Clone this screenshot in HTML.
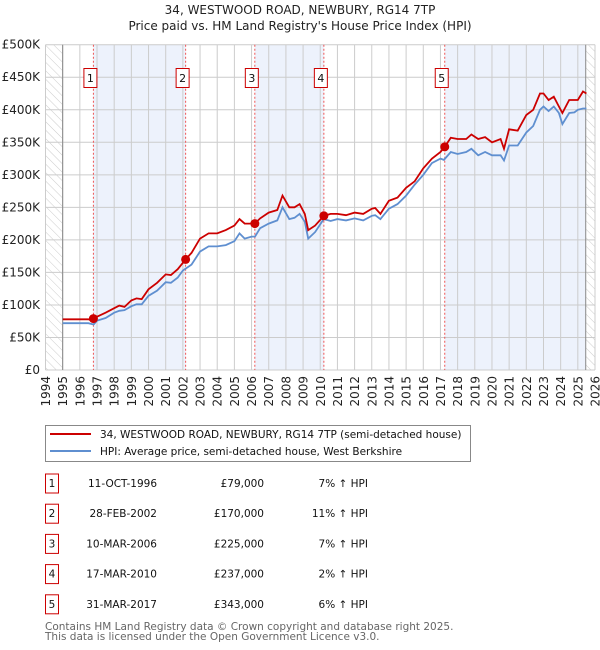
<!DOCTYPE html>
<html><head><meta charset="utf-8"><style>
body{margin:0;background:#fff;font-family:"Liberation Sans","DejaVu Sans",sans-serif;}
svg{display:block}
</style></head><body>
<svg id="c" width="600" height="650" xmlns="http://www.w3.org/2000/svg" font-family="DejaVu Sans, Liberation Sans, sans-serif">
<defs><pattern id="hatch" width="6" height="6" patternUnits="userSpaceOnUse" patternTransform="rotate(-45)"><line x1="0" y1="0" x2="0" y2="6" stroke="#ccc" stroke-width="1"/></pattern></defs>
<text x="300" y="14" text-anchor="middle" font-size="12" fill="#222">34, WESTWOOD ROAD, NEWBURY, RG14 7TP</text>
<text x="300" y="30" text-anchor="middle" font-size="12" fill="#222">Price paid vs. HM Land Registry's House Price Index (HPI)</text>
<g id="plot"></g>
<g>
<rect x="45.5" y="425.5" width="425" height="36" fill="#fff" stroke="#888"/>
<line x1="50" y1="434" x2="91" y2="434" stroke="#cc0000" stroke-width="2"/>
<text x="100" y="438" font-size="10.5" fill="#111">34, WESTWOOD ROAD, NEWBURY, RG14 7TP (semi-detached house)</text>
<line x1="50" y1="451" x2="91" y2="451" stroke="#5f8fd0" stroke-width="2"/>
<text x="100" y="455" font-size="10.5" fill="#111">HPI: Average price, semi-detached house, West Berkshire</text>
</g>
<g id="table" font-size="10.5" fill="#111"></g>
<text x="45" y="630" font-size="10.5" fill="#666">Contains HM Land Registry data © Crown copyright and database right 2025.</text>
<text x="45" y="640" font-size="10.5" fill="#666">This data is licensed under the Open Government Licence v3.0.</text>
</svg>
<script>
const hpiYears=[1995,1995.5,1996,1996.5,1996.8,1997,1997.5,1998,1998.3,1998.6,1999,1999.3,1999.6,2000,2000.5,2001,2001.3,2001.7,2002,2002.5,2003,2003.5,2004,2004.5,2005,2005.3,2005.6,2006,2006.2,2006.5,2007,2007.5,2007.8,2008.2,2008.5,2008.8,2009.1,2009.3,2009.7,2010,2010.2,2010.6,2011,2011.5,2012,2012.5,2013,2013.2,2013.5,2014,2014.5,2015,2015.5,2016,2016.5,2017,2017.2,2017.6,2018,2018.5,2018.8,2019.2,2019.6,2020,2020.5,2020.7,2021,2021.5,2022,2022.4,2022.8,2023,2023.3,2023.6,2023.9,2024.1,2024.5,2024.8,2025,2025.3,2025.5];
const hpiVals=[72,72,72,72,70,76,80,88,91,92,98,101,101,114,122,135,134,142,153,162,182,190,190,192,198,210,202,205,205,218,225,230,250,232,234,240,228,202,212,224,232,229,232,230,233,230,237,238,232,248,255,268,285,300,318,325,323,335,332,335,340,330,335,330,330,322,345,345,365,375,400,405,398,405,395,378,395,396,400,402,402];
const redYears=[1995,1995.5,1996,1996.5,1996.8,1997,1997.5,1998,1998.3,1998.6,1999,1999.3,1999.6,2000,2000.5,2001,2001.3,2001.7,2002.16,2002.5,2003,2003.5,2004,2004.5,2005,2005.3,2005.6,2006.19,2006.5,2007,2007.5,2007.8,2008.2,2008.5,2008.8,2009.1,2009.3,2009.7,2010.21,2010.6,2011,2011.5,2012,2012.5,2013,2013.2,2013.5,2014,2014.5,2015,2015.5,2016,2016.5,2017,2017.25,2017.6,2018,2018.5,2018.8,2019.2,2019.6,2020,2020.5,2020.7,2021,2021.5,2022,2022.4,2022.8,2023,2023.3,2023.6,2023.9,2024.1,2024.5,2024.8,2025,2025.3,2025.5];
const redVals=[78,78,78,78,75,82,88,95,99,97,107,110,109,124,134,147,146,155,170,180,202,210,210,215,222,232,225,225,233,242,246,268,250,250,255,240,215,222,237,240,240,238,242,240,248,249,240,260,265,280,290,310,325,335,343,357,355,355,362,355,358,350,355,340,370,368,392,400,425,425,415,420,405,395,415,415,415,428,425];
const saleYears=[1996.79,2002.16,2006.19,2010.21,2017.25];
const salePrices=[79,170,225,237,343];
const saleLabels=["1","2","3","4","5"];
const saleDates=["11-OCT-1996","28-FEB-2002","10-MAR-2006","17-MAR-2010","31-MAR-2017"];
const salePriceText=["£79,000","£170,000","£225,000","£237,000","£343,000"];
const salePct=["7% ↑ HPI","11% ↑ HPI","7% ↑ HPI","2% ↑ HPI","6% ↑ HPI"];
const yTicks=[0,50,100,150,200,250,300,350,400,450,500];
const yTickLabels=["£0","£50K","£100K","£150K","£200K","£250K","£300K","£350K","£400K","£450K","£500K"];
const xTicks=[1994,1995,1996,1997,1998,1999,2000,2001,2002,2003,2004,2005,2006,2007,2008,2009,2010,2011,2012,2013,2014,2015,2016,2017,2018,2019,2020,2021,2022,2023,2024,2025,2026];

const NS="http://www.w3.org/2000/svg";
const L=45.5,R=595,T=44.7,B=370;
const X=y=>L+(y-1994)/(2026-1994)*(R-L);
const Y=v=>B-v/500*(B-T);
const plot=document.getElementById('plot');
function mk(tag,attrs,parent){const e=document.createElementNS(NS,tag);for(const k in attrs)e.setAttribute(k,attrs[k]);(parent||plot).appendChild(e);return e;}
for(let i=0;i<saleYears.length;i+=2){
  const x1=X(saleYears[i]);const x2=i+1<saleYears.length?X(saleYears[i+1]):X(2025.46);
  const r=mk('rect',{x:x1,y:T,width:x2-x1,height:B-T,fill:'#e8effb','fill-opacity':0.8});
  
  
}
const h1=mk('rect',{x:L,y:T,width:X(1995)-L,height:B-T,fill:'url(#hatch)'});


const h2=mk('rect',{x:X(2025.46),y:T,width:R-X(2025.46),height:B-T,fill:'url(#hatch)'});


yTicks.forEach((v,i)=>{
  const g=mk('line',{x1:L,x2:R,y1:Y(v),y2:Y(v),stroke:'#ccc','stroke-width':1});
  
  
  const t=mk('text',{x:40,y:Y(v)+4,'text-anchor':'end','font-size':'12',fill:'#222'});
  t.textContent=yTickLabels[i];
  
  
});
xTicks.forEach(yr=>{
  const g=mk('line',{x1:X(yr),x2:X(yr),y1:T,y2:B,stroke:'#ccc','stroke-width':1});
  
  
  const t=mk('text',{x:0,y:0,'text-anchor':'end','font-size':'12',fill:'#222',transform:`translate(${X(yr)+4.5},${B+6}) rotate(-90)`});
  t.textContent=yr;
  
  
});
const a1=mk('line',{x1:X(1995),x2:X(1995),y1:T,y2:B,stroke:'#888'});


const a2=mk('line',{x1:X(2025.46),x2:X(2025.46),y1:T,y2:B,stroke:'#888'});


saleYears.forEach((yr,i)=>{
  const l=mk('line',{x1:X(yr),x2:X(yr),y1:T,y2:B,stroke:'#ee5555','stroke-dasharray':'2,2','stroke-width':1});
  
  
  const b=mk('rect',{x:X(yr)-9.5,y:68.5,width:13,height:19,fill:'#fff',stroke:'#cc0000'});
  
  
  const t=mk('text',{x:X(yr)-3,y:82,'text-anchor':'middle','font-size':'11',fill:'#111'});
  t.textContent=saleLabels[i];
  
  
});
const pts=(xs,vs)=>xs.map((x,i)=>X(x).toFixed(1)+','+Y(vs[i]).toFixed(1)).join(' ');
const hl=mk('polyline',{points:pts(hpiYears,hpiVals),fill:'none',stroke:'#5f8fd0','stroke-width':1.8});


const rl=mk('polyline',{points:pts(redYears,redVals),fill:'none',stroke:'#cc0000','stroke-width':1.8});


saleYears.forEach((yr,i)=>{
  const c=mk('circle',{cx:X(yr),cy:Y(salePrices[i]),r:4.5,fill:'#cc0000'});
  
  
});
const tb=document.getElementById('table');
saleLabels.forEach((lab,i)=>{
  const y=483+i*30.2;
  const b=mk('rect',{x:45.5,y:y-9,width:13,height:19,fill:'#fff',stroke:'#cc0000'},tb);
  
  
  const cols=[[52,'middle',lab,'table-label'],[157,'end',saleDates[i],'table-date'],[264,'end',salePriceText[i],'table-price'],[368,'end',salePct[i],'table-hpi-diff']];
  cols.forEach(c=>{
    const t=mk('text',{x:c[0],y:y+4,'text-anchor':c[1],'font-size':'10.5',fill:'#111'},tb);
    t.textContent=c[2];
    
    
  });
});
</script>
</body></html>
